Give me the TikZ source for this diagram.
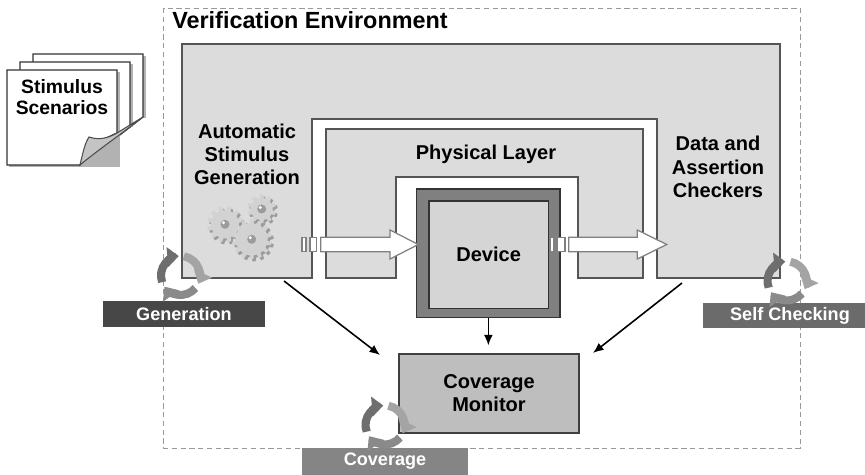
\documentclass[tikz,border=0pt]{standalone}
\usepackage{fontspec}
\setmainfont{Liberation Sans}
\usetikzlibrary{arrows.meta}

\definecolor{panelgray}{HTML}{DCDCDC}
\definecolor{edgegray}{HTML}{555555}
\definecolor{devdark}{HTML}{808080}
\definecolor{devlight}{HTML}{D5D5D5}
\definecolor{covgray}{HTML}{BEBEBE}
\definecolor{tagA}{HTML}{474747}
\definecolor{tagB}{HTML}{6B6B6B}
\definecolor{tagC}{HTML}{858585}
\definecolor{cycA}{HTML}{6E6E6E}
\definecolor{cycB}{HTML}{A4A4A4}
\definecolor{cycC}{HTML}{8A8A8A}
\definecolor{gearface}{HTML}{D2D2D2}
\definecolor{gearshade}{HTML}{9C9C9C}
\definecolor{curlgray}{HTML}{C4C4C4}

\tikzset{
  envframe/.style={draw=black!40, dash pattern=on 3pt off 2pt, line width=0.5pt},
  panel/.style={fill=panelgray, draw=edgegray, line width=0.8pt},
  lbl/.style={font=\fontsize{11.4}{13.2}\selectfont\bfseries, align=center, inner sep=0pt},
  tag/.style={font=\fontsize{10.3}{12}\selectfont\bfseries, text=white, inner sep=0pt,
              minimum width=3.24cm, minimum height=0.52cm},
  blockarrow/.style={fill=white, draw=black!50, line width=0.7pt},
  flow/.style={-{Latex[length=6pt,width=5pt]}, line width=0.9pt},
  page/.style={fill=white, draw=black!80, line width=0.7pt},
  pageshadow/.style={fill=black!30},
  cyc/.style={line width=4.6pt, -{Triangle[width=11pt,length=6.5pt]}},
  % three chasing arrows forming a cycle
  pics/cycle/.style={code={
    \draw[cyc, draw=cycA] (-200:19.5) arc[start angle=-200, end angle=-95, radius=19.5];
    \draw[cyc, draw=cycB] (-80:19.5) arc[start angle=-80, end angle=25, radius=19.5];
    \draw[cyc, draw=cycC] (40:19.5) arc[start angle=40, end angle=145, radius=19.5];
  }},
  % toothed wheel: inner radius / outer radius / number of teeth
  pics/gear/.style args={#1/#2/#3}{code={
    \pgfmathsetmacro\gearstep{360/#3}
    \path[pic actions] (0:#1) \foreach \k in {1,...,#3}{
      -- ({(\k-1)*\gearstep+0.2*\gearstep}:#1)
      -- ({(\k-1)*\gearstep+0.32*\gearstep}:#2)
      -- ({(\k-1)*\gearstep+0.68*\gearstep}:#2)
      -- ({(\k-1)*\gearstep+0.8*\gearstep}:#1)
      -- ({\k*\gearstep}:#1)
    } -- cycle;
  }},
}

\begin{document}
\begin{tikzpicture}[x=0.02cm, y=-0.02cm]
\useasboundingbox (0,0) rectangle (865,475);
\clip (0,0) rectangle (865,475);
\fill[white] (0,0) rectangle (865,475);

% verification environment frame
\draw[envframe] (163.7,8) rectangle (800,448);
\node[anchor=base west, inner sep=0pt, font=\fontsize{13.3}{16}\selectfont\bfseries]
  (envtitle) at (172,29) {Verification Environment};

% stimulus scenario pages
\fill[pageshadow] (143,56) rectangle (145.5,118);
\draw[page] (33,54) -- (143,54) -- (143,117) -- (117,137) -- (33,137) -- cycle;
\fill[pageshadow] (130,64) rectangle (132.5,127);
\draw[page] (20,62) -- (130,62) -- (130,127) -- (117,137) -- (20,137) -- cycle;
\fill[pageshadow] (9,72) rectangle (119.5,167);
\draw[page] (7,70) -- (117,70) -- (117,133)
   .. controls (100,140) and (88,150) .. (80,165) -- (7,165) -- cycle;
\filldraw[fill=curlgray, draw=black!70, line width=0.6pt]
   (80,165) .. controls (83,152) and (85,143) .. (89,137)
   .. controls (100,141) and (110,137) .. (117,133)
   -- (143,117) .. controls (120,135) and (98,150) .. (80,165) -- cycle;
\node[lbl, font=\fontsize{11}{12.2}\selectfont\bfseries] (scen) at (62,97) {Stimulus\\Scenarios};

% testbench body with the cut-out for the physical layer
\draw[panel] (182,44) -- (780,44) -- (780,278) -- (657,278) -- (657,119)
   -- (312,119) -- (312,278) -- (182,278) -- cycle;
% physical layer
\draw[panel] (326,129) -- (643,129) -- (643,278) -- (578,278) -- (578,177)
   -- (396,177) -- (396,278) -- (326,278) -- cycle;

\node[lbl] (gen) at (247,154.5) {Automatic\\Stimulus\\Generation};
\node[lbl] (chk) at (718,167) {Data and\\Assertion\\Checkers};
\node[lbl] (phy) at (486,154) {Physical Layer};

% gears
\pic[fill=gearshade] at (263.5,211) {gear=11/14.5/10};
\pic[fill=gearface] at (261.7,209) {gear=11/14.5/10};
\pic[fill=gearshade] at (227,226.5) {gear=14/18/12};
\pic[fill=gearface] at (225,224.3) {gear=14/18/12};
\pic[fill=gearshade] at (254,241.5) {gear=16/20/14};
\pic[fill=gearface] at (251.7,239.3) {gear=16/20/14};
\foreach \gx/\gy in {261.7/209, 225/224.3, 251.7/239.3}{
  \fill[gearshade] (\gx,\gy) circle[radius=4.5];
  \fill[white] (\gx-1.5,\gy-1.5) circle[radius=1.6];
}

% device under test
\node[draw=black!80, fill=devdark, line width=0.7pt, minimum width=2.866cm,
      minimum height=2.574cm, inner sep=0pt] (dev) at (488.35,253.35) {};
\node[draw=black!80, fill=devlight, line width=0.7pt, minimum width=2.386cm,
      minimum height=2.146cm, inner sep=0pt, font=\fontsize{11.4}{13.2}\selectfont\bfseries]
      (devcore) at (488.65,254.65) {Device};

% transaction flow
\draw[blockarrow] (302,237.3) rectangle (306,251.7);
\draw[blockarrow] (310,237.3) rectangle (316.7,251.7);
\draw[blockarrow] (320.7,237.3) -- (390,237.3) -- (390,230) -- (418.3,244.5)
   -- (390,259) -- (390,251.7) -- (320.7,251.7) -- cycle;
\draw[blockarrow] (550,237.3) rectangle (554,251.7);
\draw[blockarrow] (557.7,237.3) rectangle (565,251.7);
\draw[blockarrow] (568.7,237.3) -- (637.3,237.3) -- (637.3,230) -- (666.7,244.5)
   -- (637.3,259) -- (637.3,251.7) -- (568.7,251.7) -- cycle;

% coverage monitor
\node[draw=black!75, fill=covgray, line width=0.7pt, minimum width=3.6cm,
      minimum height=1.58cm, inner sep=0pt, align=center,
      font=\fontsize{11.4}{13}\selectfont\bfseries] (cov) at (489,393.5) {Coverage\\Monitor};

\coordinate (genout) at (284,281);
\coordinate (genin)  at (380,355);
\coordinate (chkout) at (682,283);
\coordinate (chkin)  at (593,353);
\draw[flow] (genout) -- (genin);
\draw[flow] (chkout) -- (chkin);
\draw[flow, shorten >=4.5pt] (dev.south) -- (dev.south |- cov.north);

% methodology tags
\node[tag, fill=tagA] (taggen) at (184,314) {Generation};
\node[tag, fill=tagB, minimum width=3.48cm, minimum height=0.5cm] (tagchk) at (790,315.5) {Self Checking};
\node[tag, fill=tagC, minimum width=3.32cm, minimum height=0.54cm] (tagcov) at (385,461.5) {Coverage};

% cycle icons
\pic at (180.5,275.5) {cycle};
\pic at (787,281) {cycle};
\pic at (385,425) {cycle};
\end{tikzpicture}
\end{document}
